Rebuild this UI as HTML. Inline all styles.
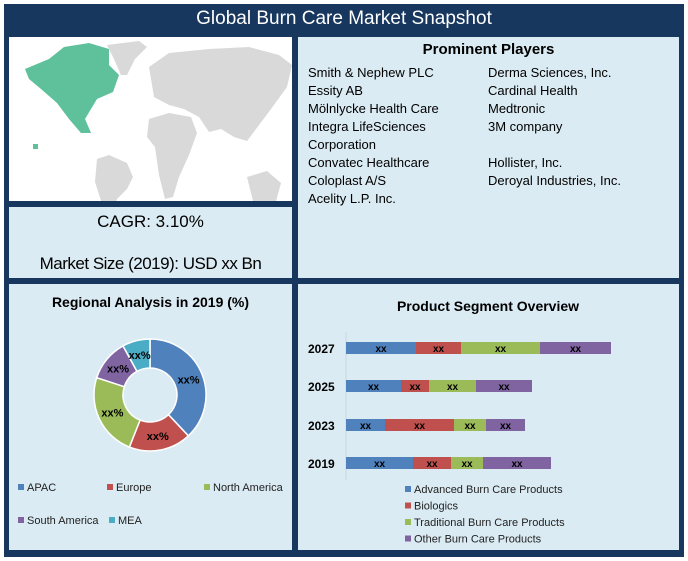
<!DOCTYPE html>
<html><head><meta charset="utf-8"><style>
body{margin:0;width:688px;height:561px;background:#fff;font-family:"Liberation Sans",sans-serif;position:relative;overflow:hidden}
.frame{position:absolute;left:4px;top:4px;width:680px;height:553px;background:#17375e}
.p{position:absolute;background:#dbebf3}
.t{position:absolute;white-space:nowrap}
</style></head><body>
<div class="frame"></div>
<div class="t" style="left:0;width:688px;top:8px;text-align:center;color:#fff;font-size:19px">Global Burn Care Market Snapshot</div>
<div class="p" style="left:9px;top:37px;width:283px;height:164px;background:#fff">
<svg width="283" height="164">
<g fill="#d9d9d9">
<path d="M98 8 L130 4 L138 10 L126 22 L118 38 L112 38 L104 20Z"/>
<path d="M88 122 L100 118 L118 126 L124 140 L118 152 L108 162 L102 190 L96 192 L94 170 L86 145Z"/>
<path d="M140 30 L160 16 L200 12 L240 10 L270 18 L283 28 L278 50 L262 72 L250 88 L238 104 L225 100 L212 92 L200 95 L190 80 L175 72 L160 68 L145 60Z"/>
<path d="M140 82 L160 76 L182 80 L188 96 L180 118 L170 140 L164 160 L156 162 L150 138 L146 110 L138 100Z"/>
<path d="M238 140 L258 134 L272 146 L266 168 L244 164Z"/>
</g>
<path fill="#5ec19b" d="M16 32 L40 22 L55 10 L80 6 L100 12 L100 28 L110 38 L104 55 L88 62 L76 82 L82 96 L72 96 L60 82 L48 66 L32 52 L20 42Z"/>
<rect x="24" y="107" width="5" height="5" fill="#5ec19b"/>
</svg></div>
<div class="p" style="left:9px;top:207px;width:283px;height:71px">
<div class="t" style="left:0;width:283px;top:5px;text-align:center;font-size:17px">CAGR: 3.10%</div>
<div class="t" style="left:0;width:283px;top:47px;text-align:center;font-size:17px;letter-spacing:-0.5px">Market Size (2019): USD xx Bn</div>
</div>
<div class="p" style="left:298px;top:37px;width:381px;height:241px;font-size:13px;line-height:18px">
<div class="t" style="left:0;width:381px;top:4px;text-align:center;font-size:15px;font-weight:bold">Prominent Players</div>
<div class="t" style="left:10px;top:27px">Smith &amp; Nephew PLC<br>Essity AB<br>Mölnlycke Health Care<br>Integra LifeSciences<br>Corporation<br>Convatec Healthcare<br>Coloplast A/S<br>Acelity L.P. Inc.</div>
<div class="t" style="left:190px;top:27px">Derma Sciences, Inc.<br>Cardinal Health<br>Medtronic<br>3M company<br><br>Hollister, Inc.<br>Deroyal Industries, Inc.</div>
</div>
<div class="p" style="left:9px;top:284px;width:283px;height:266px">
<div class="t" style="left:0;width:283px;top:10px;text-align:center;font-size:14px;font-weight:bold">Regional Analysis in 2019 (%)</div>
<svg id="donut" width="283" height="266" style="position:absolute;left:0;top:0"></svg>
</div>
<div class="p" style="left:298px;top:284px;width:381px;height:266px">
<svg id="bars" width="381" height="266" style="position:absolute;left:0;top:0"></svg>
</div>
<script>
const regions=["APAC","Europe","North America","South America","MEA"];
const shares=[38,18,24,12,8];
const regionColors=["#4f81bd","#c0504d","#9bbb59","#8064a2","#4bacc6"];
const years=["2027","2025","2023","2019"];
const advanced=[70,55,39,67];
const biologics=[45,28,69,38];
const traditional=[79,47,32,32];
const other=[71,56,39,68];
const segNames=["Advanced Burn Care Products","Biologics","Traditional Burn Care Products","Other Burn Care Products"];
const NS="http://www.w3.org/2000/svg";
function mk(p,tag,a){const e=document.createElementNS(NS,tag);for(const k in a)e.setAttribute(k,a[k]);p.appendChild(e);return e;}
const d=document.getElementById('donut');
const cx=141,cy=111,R=56,r=27;
const tot=shares.reduce((a,b)=>a+b,0);
let ang=0;
function pt(a,rad){return [cx+rad*Math.sin(a),cy-rad*Math.cos(a)];}
shares.forEach((v,i)=>{
 const a0=ang/tot*2*Math.PI,a1=(ang+v)/tot*2*Math.PI;ang+=v;
 const lg=a1-a0>Math.PI?1:0;
 const [x0,y0]=pt(a0,R),[x1,y1]=pt(a1,R),[x2,y2]=pt(a1,r),[x3,y3]=pt(a0,r);
 const s=mk(d,'path',{d:`M${x0} ${y0}A${R} ${R} 0 ${lg} 1 ${x1} ${y1}L${x2} ${y2}A${r} ${r} 0 ${lg} 0 ${x3} ${y3}Z`,fill:regionColors[i],stroke:'#fff','stroke-width':1.5});
 
 
 const [lx,ly]=pt((a0+a1)/2,(R+r)/2);
 const t=mk(d,'text',{x:lx,y:ly+4,'text-anchor':'middle','font-size':11,'font-weight':'bold',fill:'#000'});t.textContent='xx%';
 
 
});
const lpos=[[9,207],[98,207],[195,207],[9,240],[100,240]];
regions.forEach((n,i)=>{
 const g=mk(d,'g',{});
 
 
 mk(g,'rect',{x:lpos[i][0],y:lpos[i][1]-7,width:6,height:6,fill:regionColors[i]});
 const t=mk(g,'text',{x:lpos[i][0]+9,y:lpos[i][1],'font-size':11,fill:'#222'});t.textContent=n;
});
const b=document.getElementById('bars');
const t0=mk(b,'text',{x:190,y:27,'text-anchor':'middle','font-size':14,'font-weight':'bold'});t0.textContent='Product Segment Overview';


const x0=48,sc=1;
const yC=[64,102,141,179];
mk(b,'line',{x1:x0,y1:48,x2:x0,y2:196,stroke:'#c8d4dc','stroke-width':1});
const series=[advanced,biologics,traditional,other];
years.forEach((y,i)=>{
 const yl=mk(b,'text',{x:10,y:yC[i]+5,'font-size':12,'font-weight':'bold'});yl.textContent=y;
 
 
 let x=x0;
 series.forEach((s,j)=>{
  const w=s[i]*sc;
  const rc=mk(b,'rect',{x:x,y:yC[i]-6,width:w,height:12,fill:regionColors[j]});
  
  
  const t=mk(b,'text',{x:x+w/2,y:yC[i]+4,'text-anchor':'middle','font-size':10,'font-weight':'bold'});t.textContent='xx';
  
  
  x+=w;
 });
});
segNames.forEach((n,i)=>{
 const g=mk(b,'g',{});
 
 
 const y=209+i*16.5;
 mk(g,'rect',{x:107,y:y-7,width:6,height:6,fill:regionColors[i]});
 const t=mk(g,'text',{x:116,y:y,'font-size':11,fill:'#222'});t.textContent=n;
});
</script>
</body></html>
